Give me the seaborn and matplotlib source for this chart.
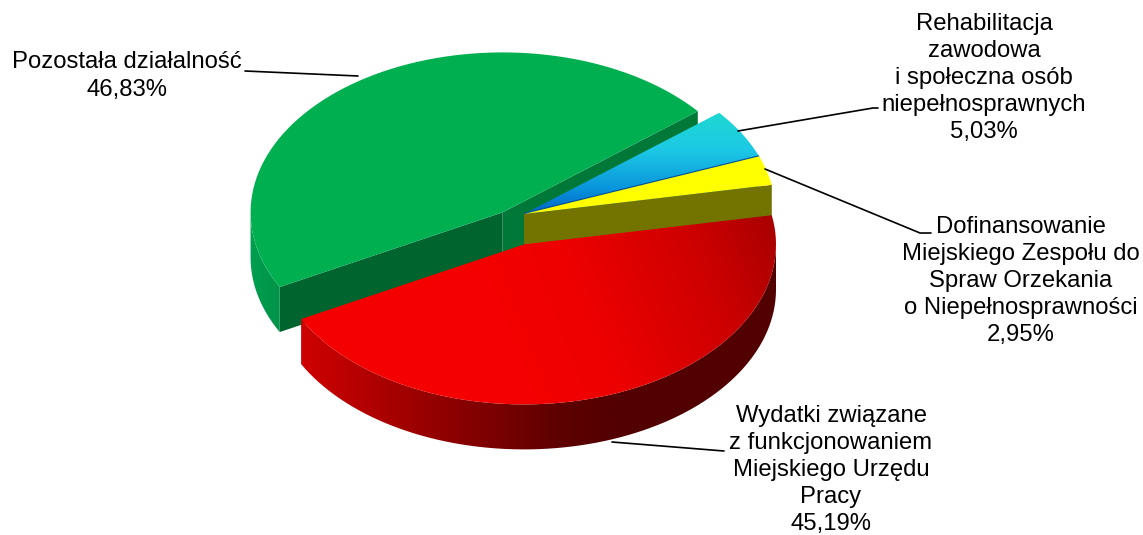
import numpy as np
import matplotlib.pyplot as plt
import seaborn as sns
from matplotlib.patches import Polygon

# dane (kolejnosc przeciwnie do ruchu wskazowek zegara od kata startowego)
labels = ["Dofinansowanie\nMiejskiego Zespołu do\nSpraw Orzekania\no Niepełnosprawności",
          "Rehabilitacja\nzawodowa\ni społeczna osób\nniepełnosprawnych",
          "Pozostała działalność",
          "Wydatki związane\nz funkcjonowaniem\nMiejskiego Urzędu\nPracy"]
values = [2.95, 5.03, 46.83, 45.19]

# wyglad
top_colors = ["#FFFF00", None, "#00B050", None]
explode = [(0, 0), (0, 0), (-0.085, 0.01), (0, -0.19)]
label_pos = [(1021, 281), (984, 78), (127, 76), (831, 470)]
leaders = [[(765, 169), (920, 233), (931, 233)],
           [(738, 131), (873, 108), (878, 108)],
           [(245, 71), (358, 76)],
           [(612, 442), (724, 451)]]

sns.set_style("white")
plt.rcParams['font.family'] = ['Liberation Sans', 'DejaVu Sans']

W, H = 1143, 535
fig = plt.figure(figsize=(W / 100, H / 100), dpi=100)
ax = fig.add_axes([0, 0, 1, 1])
ax.set_xlim(0, W)
ax.set_ylim(H, 0)
ax.axis("off")

cx, cy = 524, 214
rx, ry = 252, 160
depth = 45
start = 10.5

edges = start + np.concatenate([[0], np.cumsum(values)]) / sum(values) * 360


def pt(ang, off, r=1.0, z=0):
    a = np.deg2rad(ang)
    return (cx + rx * (off[0] + r * np.cos(a)), cy - ry * (off[1] + r * np.sin(a)) + z)


def arc(a1, a2, off, z=0, n=80):
    return [pt(a, off, 1.0, z) for a in np.linspace(a1, a2, n)]


zo = [1]


def add_poly(pts, color, lw=0, ec="none"):
    zo[0] += 1
    ax.add_patch(Polygon(pts, closed=True, facecolor=color, edgecolor=ec, lw=lw, zorder=zo[0]))


def grad_poly(pts, p0, p1, stops):
    # liniowy gradient wzdluz wektora p0->p1, przyciety do wielokata
    zo[0] += 1
    patch = Polygon(pts, closed=True, facecolor="none", edgecolor="none", zorder=zo[0])
    ax.add_patch(patch)
    pts = np.array(pts)
    x0, y0 = pts.min(axis=0) - 2
    x1, y1 = pts.max(axis=0) + 2
    gx, gy = np.meshgrid(np.linspace(x0, x1, 300), np.linspace(y0, y1, 300))
    d = np.array(p1, float) - np.array(p0, float)
    t = ((gx - p0[0]) * d[0] + (gy - p0[1]) * d[1]) / (d @ d)
    t = np.clip(t, 0, 1)
    pos = [s[0] for s in stops]
    cols = np.array([s[1] for s in stops], float) / 255
    img = np.stack([np.interp(t, pos, cols[:, k]) for k in range(3)], axis=-1)
    im = ax.imshow(img, extent=(x0, x1, y1, y0), origin="upper", aspect="auto",
                   interpolation="bilinear", zorder=zo[0])
    im.set_clip_path(patch)


# --- zielony (z tylu) ---
a1, a2 = edges[2], edges[3]
off = explode[2]
apex = pt(0, off, 0)
# sciana przy krawedzi startowej
add_poly([apex, pt(a1, off), pt(a1, off, 1, depth), pt(0, off, 0, depth)], "#007837")
# sciana przy krawedzi koncowej
add_poly([apex, pt(a2, off), pt(a2, off, 1, depth), pt(0, off, 0, depth)], "#00642F")
# bok
rim = arc(180, a2, off) + arc(a2, 180, off, depth)
grad_poly(rim, (248, 0), (282, 0), [(0, (0, 160, 80)), (1, (0, 145, 70))])
add_poly([apex] + arc(a1, a2, off), top_colors[2])

# --- niebieski ---
a1, a2 = edges[1], edges[2]
off = explode[1]
apex = pt(0, off, 0)
add_poly([apex, pt(a1, off), pt(a1, off, 1, depth), pt(0, off, 0, depth)], "#00509F")
grad_poly([apex] + arc(a1, a2, off), (0, 109), (0, 214),
          [(0, (30, 218, 208)), (0.4, (28, 200, 228)), (0.75, (10, 150, 220)), (1, (0, 100, 200))])
ax.plot([apex[0], pt(a1, off)[0]], [apex[1], pt(a1, off)[1]], color="#00509A", lw=1.6,
        zorder=zo[0] + 0.5, solid_capstyle="butt")

# --- zolty ---
a1, a2 = edges[0], edges[1]
off = explode[0]
apex = pt(0, off, 0)
add_poly([apex, pt(a1, off), pt(a1, off, 1, depth), pt(0, off, 0, depth)], "#737300")
add_poly([apex] + arc(a1, a2, off), top_colors[0])

# --- czerwony (z przodu) ---
a1, a2 = edges[3] - 360, edges[4] - 360
off = explode[3]
apex = pt(0, off, 0)
rim = arc(a1, 0, off) + arc(0, a1, off, depth)
grad_poly(rim, (305, 0), (620, 0), [(0, (205, 0, 0)), (0.4, (150, 0, 0)), (0.8, (95, 0, 0)), (1, (82, 0, 0))])
grad_poly([apex] + arc(a1, a2, off), (480, 340), (775, 225),
          [(0, (245, 0, 0)), (0.35, (238, 0, 0)), (0.75, (205, 0, 0)), (1, (170, 0, 0))])

# --- etykiety ---
for lab, v, (lx, ly), line in zip(labels, values, label_pos, leaders):
    txt = lab + "\n" + f"{v:.2f}%".replace(".", ",")
    ax.text(lx, ly, txt, ha="center", va="center", multialignment="center",
            fontsize=17.2, color="black", linespacing=1.3, zorder=50)
    xs, ys = zip(*line)
    ax.plot(xs, ys, color="black", lw=1.2, zorder=49)

fig.savefig("out.png", dpi=100)
